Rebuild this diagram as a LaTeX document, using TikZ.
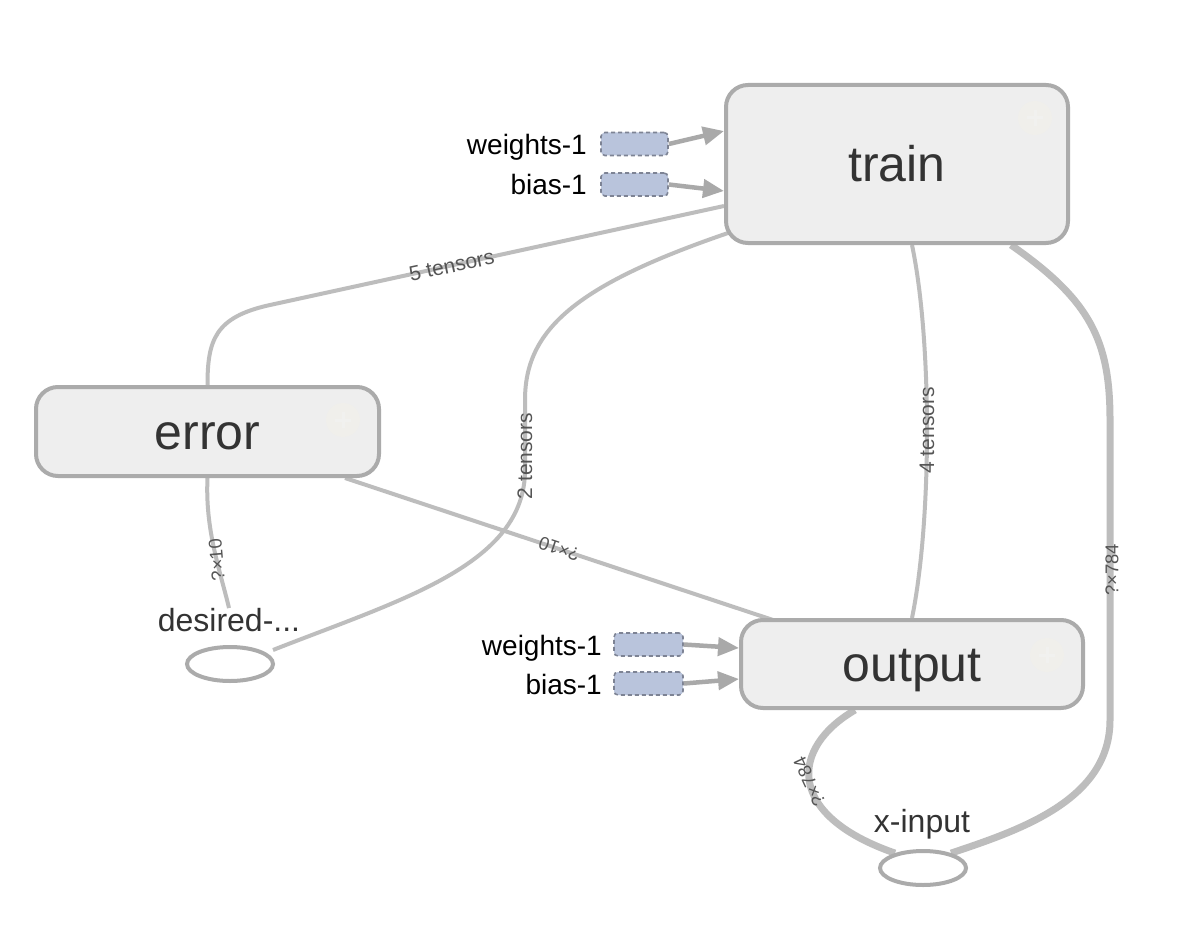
\documentclass[tikz,border=0pt]{standalone}
\usepackage{fontspec}
\setmainfont{Liberation Sans}
\usetikzlibrary{arrows.meta,calc,shapes.geometric}
\definecolor{edgec}{HTML}{BDBDBD}
\definecolor{boxline}{HTML}{ABABAB}
\definecolor{boxfill}{HTML}{EEEEEE}
\definecolor{txt}{HTML}{333333}
\definecolor{lbl}{HTML}{555555}
\definecolor{varfill}{HTML}{B9C4DC}
\definecolor{varline}{HTML}{7D8394}
\definecolor{arrc}{HTML}{A9A9A9}
\definecolor{iconfill}{HTML}{F0EFEB}
\definecolor{iconplus}{HTML}{F1F1EF}
\pgfdeclarelayer{bg}
\pgfdeclarelayer{paper}
\pgfsetlayers{paper,bg,main}
\begin{document}
\begin{tikzpicture}[x=1pt,y=-1pt,
  opbox/.style={draw=boxline,fill=boxfill,line width=4pt,rounded corners=22pt,
    font=\fontsize{50}{50}\selectfont,text=txt,inner sep=0pt,text height=35pt,text depth=0pt},
  varbox/.style={draw=varline,fill=varfill,dash pattern=on 4pt off 3pt,line width=1.6pt,
    rounded corners=4pt,minimum height=23pt,inner sep=0pt},
  varlbl/.style={anchor=base east,font=\fontsize{28}{28}\selectfont,text=black,inner sep=0pt},
  plainedge/.style={draw=edgec,line width=4pt},
  fatedge/.style={draw=edgec,line width=7pt},
  elbl/.style={font=\fontsize{18.5}{18.5}\selectfont,text=lbl,inner sep=0pt},
  tlbl/.style={font=\fontsize{21}{21}\selectfont,text=lbl,inner sep=0pt},
  inarrow/.style={draw=arrc,line width=4.5pt,-{Triangle[length=21pt,width=18pt]}},
  phnode/.style={draw=boxline,fill=white,line width=4pt,ellipse,minimum width=86pt,minimum height=34pt,inner sep=0pt},
  phlbl/.style={font=\fontsize{32}{32}\selectfont,text=txt,inner sep=0pt},
  iconc/.style={circle,fill=iconfill,minimum size=34pt,inner sep=0pt}
]
\useasboundingbox (0,0) rectangle (1196,944);
\begin{pgfonlayer}{paper}
\fill[white] (0,0) rectangle (1196,944);
\end{pgfonlayer}

% operation boxes
\node[opbox,minimum width=342pt,minimum height=158pt] (train) at (897,164) {train};
\node[opbox,minimum width=343pt,minimum height=89pt] (error) at (207.5,431.5) {error};
\node[opbox,minimum width=342pt,minimum height=88pt] (output) at (912,664) {output};

% faint expand icons
\node[iconc] (ictrain) at (1035,118) {};
\node[iconc] (icerror) at (343,420) {};
\node[iconc] (icoutput) at (1047,655) {};
\foreach \ic in {ictrain,icerror,icoutput}{
  \draw[iconplus,line width=3pt] ($(\ic)+(-8,0)$) -- ($(\ic)+(8,0)$);
  \draw[iconplus,line width=3pt] ($(\ic)+(0,-8)$) -- ($(\ic)+(0,8)$);
}

% placeholders
\node[phnode] (desired) at (230,664) {};
\node[phlbl] (dlabel) at (229,620) {desired-...};
\node[phnode] (xin) at (923,868) {};
\node[phlbl] (xlabel) at (922,824) {x-input};

% variables
\node[varbox,minimum width=67pt] (w1) at (634.5,144) {};
\node[varbox,minimum width=67pt] (b1) at (634.5,184.5) {};
\node[varbox,minimum width=69pt] (w2) at (648.5,644.5) {};
\node[varbox,minimum width=69pt] (b2) at (648.5,683.5) {};
\node[varlbl] (w1l) at (587,155) {weights-1};
\node[varlbl] (b1l) at (587,194) {bias-1};
\node[varlbl] (w2l) at (602,655) {weights-1};
\node[varlbl] (b2l) at (602,694) {bias-1};

% input arrows
\draw[inarrow] (w1.east) -- ($(train.north west)+(0,48)$);
\draw[inarrow] (b1.east) -- ($(train.north west)+(0,108)$);
\draw[inarrow] (w2.east) -- ($(output.north west)+(0,30)$);
\draw[inarrow] (b2.east) -- ($(output.north west)+(0,61)$);

\begin{pgfonlayer}{bg}
% train -> error : 5 tensors
\draw[plainedge] ($(train.west)+(0,42)$) -- node[tlbl,pos=0.6,rotate=12] (l5t) {5 tensors} (270,305)
  .. controls (215,317) and (207.5,340) .. (error.north);
% train -> desired : 2 tensors
\draw[plainedge] ($(train.south west)+(7,-13)$) .. controls (575,285) and (525,330) .. (525,400)
  -- node[tlbl,pos=0.8,rotate=90] (l2t) {2 tensors} (525,470)
  .. controls (525,565) and (400,600) .. ($(desired.east)+(-2,-14)$);
% train -> output : 4 tensors
\draw[plainedge] ($(train.south)+(15,0)$) .. controls (932,340) and (932,520) .. node[tlbl,pos=0.5,rotate=90] (l4t) {4 tensors} (output.north);
% train -> x-input : ?x784
\draw[fatedge] ($(train.south east)+(-59,0)$) .. controls (1090,300) and (1110,340) .. (1110,420)
  -- node[elbl,pos=0.5,rotate=90,yshift=-2pt] (l784a) {?×784} (1110,720)
  .. controls (1110,800) and (1020,830) .. (xin.28);
% error -> desired : ?x10
\draw[plainedge] (error.south) .. controls (205,530) and (220,570) .. node[elbl,pos=0.6,rotate=95,xshift=1pt] (l10a) {?×10} (dlabel.north);
% error -> output : ?x10
\draw[plainedge] ($(error.south east)+(-36,0)$) -- node[elbl,pos=0.5,rotate=161.6] (l10b) {?×10} ($(output.north west)+(34,2)$);
% output -> x-input : ?x784
\draw[fatedge] ($(output.south)+(-57,0)$) .. controls (790,748) and (785,815) .. node[elbl,pos=0.5,rotate=115] (l784b) {?×784} (xin.152);
\end{pgfonlayer}
\end{tikzpicture}
\end{document}
